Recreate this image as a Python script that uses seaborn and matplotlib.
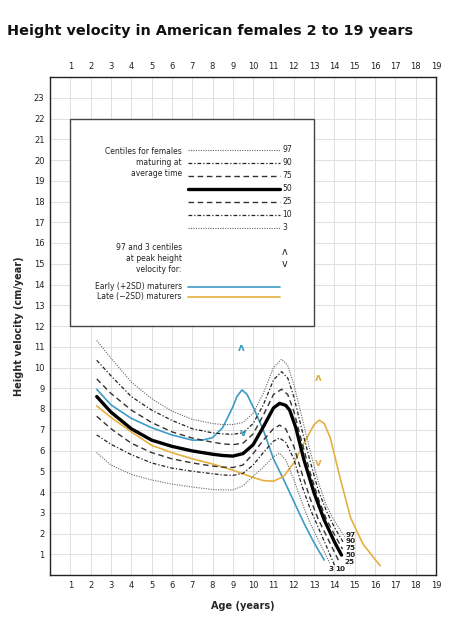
import matplotlib
matplotlib.use("Agg")
import matplotlib.pyplot as plt
import seaborn as sns
import pandas as pd
from matplotlib.patches import Rectangle

# ---------------- data ----------------
x_p97 = [2.3, 3, 4, 5, 6, 7, 8, 8.5, 9, 9.5, 10, 10.5, 11, 11.4, 11.7, 12, 12.4, 12.8, 13.2, 13.6, 14, 14.5]
y_p97 = [11.3, 10.45, 9.3, 8.5, 7.9, 7.5, 7.3, 7.25, 7.25, 7.35, 7.8, 8.75, 10.0, 10.4, 10.1, 9.2, 7.6, 6.0, 4.5, 3.35, 2.6, 1.85]

x_p90 = [2.3, 3, 4, 5, 6, 7, 8, 8.5, 9, 9.5, 10, 10.5, 11, 11.4, 11.7, 12, 12.4, 12.8, 13.2, 13.6, 14, 14.45]
y_p90 = [10.35, 9.6, 8.6, 7.95, 7.45, 7.05, 6.85, 6.8, 6.78, 6.85, 7.3, 8.2, 9.4, 9.8, 9.5, 8.6, 7.0, 5.5, 4.1, 3.1, 2.3, 1.55]

x_p75 = [2.3, 3, 4, 5, 6, 7, 8, 8.5, 9, 9.5, 10, 10.5, 11, 11.4, 11.7, 12, 12.4, 12.8, 13.2, 13.6, 14, 14.4]
y_p75 = [9.45, 8.75, 7.95, 7.35, 6.9, 6.6, 6.4, 6.32, 6.28, 6.35, 6.8, 7.7, 8.7, 8.95, 8.7, 7.9, 6.4, 4.95, 3.7, 2.7, 1.95, 1.25]

x_p50 = [2.3, 3, 4, 5, 6, 7, 8, 8.5, 9, 9.5, 10, 10.5, 11, 11.3, 11.6, 11.8, 12.1, 12.5, 13, 13.5, 14, 14.35]
y_p50 = [8.6, 7.85, 7.05, 6.5, 6.2, 5.98, 5.82, 5.76, 5.73, 5.85, 6.28, 7.14, 8.05, 8.27, 8.18, 7.94, 7.1, 5.55, 3.95, 2.65, 1.6, 0.96]

x_p25 = [2.3, 3, 4, 5, 6, 7, 8, 8.5, 9, 9.5, 10, 10.5, 11, 11.3, 11.6, 12, 12.4, 12.8, 13.2, 13.6, 14.26]
y_p25 = [7.65, 7.05, 6.35, 5.9, 5.6, 5.4, 5.25, 5.2, 5.18, 5.3, 5.85, 6.5, 7.05, 7.22, 7.05, 6.2, 4.9, 3.7, 2.7, 1.9, 0.58]

x_p10 = [2.3, 3, 4, 5, 6, 7, 8, 8.5, 9, 9.5, 10, 10.5, 11, 11.3, 11.6, 12, 12.4, 12.8, 13.2, 13.6, 14.0]
y_p10 = [6.75, 6.3, 5.8, 5.4, 5.15, 5.0, 4.88, 4.82, 4.8, 4.9, 5.3, 5.9, 6.45, 6.6, 6.4, 5.6, 4.3, 3.2, 2.3, 1.4, 0.48]

x_p3 = [2.3, 3, 4, 5, 6, 7, 8, 8.5, 9, 9.5, 10, 10.5, 11, 11.3, 11.6, 12, 12.4, 12.8, 13.2, 13.77]
y_p3 = [5.9, 5.3, 4.85, 4.58, 4.38, 4.24, 4.12, 4.1, 4.1, 4.3, 4.75, 5.2, 5.7, 5.87, 5.55, 4.6, 3.5, 2.5, 1.7, 0.58]

x_early = [2.3, 3, 4, 5, 6, 7, 7.5, 8, 8.5, 9, 9.2, 9.45, 9.7, 10, 10.5, 11, 11.5, 12, 12.5, 13, 13.5]
y_early = [8.95, 8.2, 7.55, 7.1, 6.75, 6.5, 6.5, 6.62, 7.1, 8.1, 8.6, 8.92, 8.7, 8.1, 6.98, 5.6, 4.6, 3.55, 2.5, 1.55, 0.72]

x_late = [2.3, 3, 4, 5, 6, 7, 8, 9, 10, 10.5, 11, 11.5, 12, 12.5, 13, 13.25, 13.5, 13.8, 14.3, 14.8, 15.4, 16.0, 16.25]
y_late = [8.15, 7.6, 6.9, 6.25, 5.9, 5.6, 5.35, 5.05, 4.7, 4.55, 4.52, 4.75, 5.4, 6.35, 7.25, 7.46, 7.3, 6.6, 4.6, 2.75, 1.5, 0.75, 0.45]

# peak markers (age, velocity)
early_hi = (9.43, 10.95)
early_lo = (9.5, 6.82)
late_hi = (13.2, 9.47)
late_lo = (13.2, 5.38)

centile_labels = ["97", "90", "75", "50", "25", "10", "3"]
x_ticks = list(range(1, 20))
y_ticks = list(range(1, 24))

# ---------------- style ----------------
sns.set_style("white")
plt.rcParams['font.family'] = ['DejaVu Sans']

BLUE = "#3d9cc4"
ORANGE = "#e5b040"
DOT = (0, (1, 1.2))
DASHDOT = (0, (3, 1.6, 1, 1.6))
DASH = (0, (4, 2.6))
UP = "\u028c"

styles = {
    "97": dict(color="#666666", lw=0.8, ls=DOT),
    "90": dict(color="#222222", lw=0.9, ls=DASHDOT),
    "75": dict(color="#333333", lw=1.0, ls=DASH),
    "50": dict(color="black", lw=2.4, ls="-"),
    "25": dict(color="#333333", lw=1.0, ls=DASH),
    "10": dict(color="#222222", lw=0.9, ls=DASHDOT),
    "3": dict(color="#666666", lw=0.8, ls=DOT),
}

fig = plt.figure(figsize=(4.71, 6.23), dpi=100)
ax = fig.add_axes([50 / 471, 1 - 575 / 623, 386 / 471, 498 / 623])

series = {
    "97": (x_p97, y_p97), "90": (x_p90, y_p90), "75": (x_p75, y_p75),
    "50": (x_p50, y_p50), "25": (x_p25, y_p25), "10": (x_p10, y_p10),
    "3": (x_p3, y_p3),
}

sns.lineplot(x=x_early, y=y_early, ax=ax, color=BLUE, lw=1.2, sort=False, estimator=None)
sns.lineplot(x=x_late, y=y_late, ax=ax, color=ORANGE, lw=1.2, sort=False, estimator=None)
for k in ["97", "90", "75", "25", "10", "3", "50"]:
    xs, ys = series[k]
    st = styles[k]
    sns.lineplot(x=xs, y=ys, ax=ax, color=st["color"], lw=st["lw"], linestyle=st["ls"],
                 sort=False, estimator=None)

# peak markers
for (px, py), c, s in [(early_hi, BLUE, UP), (early_lo, BLUE, "v"),
                       (late_hi, ORANGE, UP), (late_lo, ORANGE, "v")]:
    ax.text(px, py, s, color=c, ha="center", va="center", fontsize=7.5,
            fontweight="bold", zorder=10)

# end labels
end_pos = {"97": (14.55, 1.95), "90": (14.55, 1.62), "75": (14.55, 1.29),
           "50": (14.55, 0.96), "25": (14.5, 0.63)}
for k, (px, py) in end_pos.items():
    ax.text(px, py, k, fontsize=5.2, fontweight="bold", ha="left", va="center", color="#222222")
ax.text(13.85, 0.3, "3", fontsize=5.2, fontweight="bold", ha="center", va="center", color="#222222")
ax.text(14.3, 0.3, "10", fontsize=5.2, fontweight="bold", ha="center", va="center", color="#222222")

# axes
ax.set_xlim(0, 19)
ax.set_ylim(0, 24)
ax.set_xticks(range(0, 20))
ax.set_xticklabels([""] + [str(t) for t in x_ticks])
ax.set_yticks(range(0, 25))
ax.set_yticklabels([""] + [str(t) for t in y_ticks] + [""])
ax.grid(True, color="#e0e0e0", lw=0.7)
ax.set_axisbelow(True)
ax.tick_params(axis="both", length=0, labelsize=6, colors="#222222", pad=4)
ax.tick_params(axis="x", top=True, labeltop=True)
for sp in ax.spines.values():
    sp.set_visible(True)
    sp.set_color("#222222")
    sp.set_linewidth(1.0)

ax.set_xlabel("Age (years)", fontsize=7, fontweight="bold", labelpad=8)
ax.set_ylabel("Height velocity (cm/year)", fontsize=7, fontweight="bold", labelpad=7)

# legend box
ax.add_patch(Rectangle((1, 12), 12, 10, facecolor="white", edgecolor="#444444", lw=1.0, zorder=5))
lx0, lx1, tx = 6.79, 11.31, 11.44
rows_y = [20.5, 19.87, 19.24, 18.61, 17.99, 17.37, 16.74]
for k, yy in zip(centile_labels, rows_y):
    st = styles[k]
    ax.plot([lx0, lx1], [yy, yy], color=st["color"], lw=st["lw"], linestyle=st["ls"], zorder=6)
    ax.text(tx, yy, k, fontsize=5.5, ha="left", va="center", zorder=6, color="#222222")
ax.text(6.48, 20.62, "Centiles for females\nmaturing at\naverage time", fontsize=5.5,
        ha="right", va="top", zorder=6, linespacing=1.25, color="#222222")
ax.text(6.48, 15.98, "97 and 3 centiles\nat peak height\nvelocity for:", fontsize=5.5,
        ha="right", va="top", zorder=6, linespacing=1.25, color="#222222")
ax.text(11.56, 15.55, UP, fontsize=7, ha="center", va="center", zorder=6)
ax.text(11.56, 15.0, "v", fontsize=7, ha="center", va="center", zorder=6)
ax.plot([lx0, lx1], [13.88, 13.88], color=BLUE, lw=1.2, zorder=6)
ax.plot([lx0, lx1], [13.4, 13.4], color=ORANGE, lw=1.2, zorder=6)
ax.text(6.48, 13.88, "Early (+2SD) maturers", fontsize=5.5, ha="right", va="center", zorder=6, color="#222222")
ax.text(6.48, 13.4, "Late (\u22122SD) maturers", fontsize=5.5, ha="right", va="center", zorder=6, color="#222222")

fig.text(7 / 471, 1 - 31 / 623, "Height velocity in American females 2 to 19 years",
         fontsize=10.4, fontweight="bold", ha="left", va="center", color="#111111")

fig.savefig("out.png", dpi=100)
